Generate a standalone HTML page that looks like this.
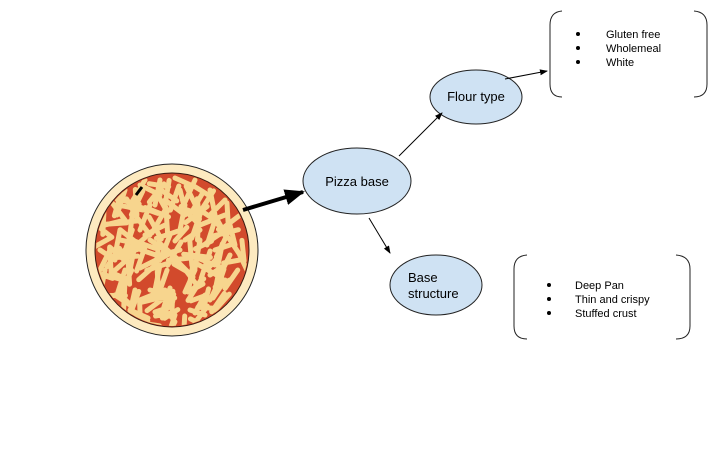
<!DOCTYPE html>
<html><head><meta charset="utf-8"><style>
html,body{margin:0;padding:0;background:#fff;}
svg{display:block;font-family:"Liberation Sans",Arial,sans-serif;}
</style></head><body>
<svg width="720" height="450" viewBox="0 0 720 450" xmlns="http://www.w3.org/2000/svg">
<defs>
<marker id="ah" markerWidth="8" markerHeight="8" refX="7" refY="4" orient="auto" markerUnits="userSpaceOnUse"><path d="M0,1 L8,4 L0,7 z" fill="#000"/></marker>
<marker id="ahb" markerWidth="20" markerHeight="16" refX="18" refY="8" orient="auto" markerUnits="userSpaceOnUse"><path d="M0,0 L20,8 L0,16 z" fill="#000"/></marker>
<clipPath id="pc"><circle cx="172" cy="250" r="76"/></clipPath>
</defs>
<circle cx="172" cy="250" r="86" fill="#fdeac0" stroke="#222" stroke-width="1"/>
<circle cx="172" cy="250" r="77" fill="#d24a2c" stroke="#3a1a10" stroke-width="1"/>
<g clip-path="url(#pc)" stroke="#f7d58e" stroke-width="5" stroke-linecap="round" fill="none">
<path id="ch" d="M110,200 l15,20 M125,190 l-8,25 M140,185 l20,10 M160,180 l-5,25 M175,178 l18,8 M195,180 l-10,22 M210,190 l5,25 M225,200 l-15,15 M105,225 l20,-5 M120,230 l-5,25 M135,215 l15,20 M150,205 l-10,25 M165,200 l20,15 M185,205 l-5,25 M200,210 l15,10 M215,220 l-8,25 M230,225 l5,20 M100,250 l15,10 M115,255 l20,-10 M135,245 l-5,25 M150,240 l18,12 M170,235 l-10,25 M185,240 l15,-10 M200,240 l-5,28 M215,250 l15,-5 M230,255 l-10,20 M105,275 l18,5 M125,270 l-8,25 M140,268 l20,-10 M160,265 l-5,25 M178,262 l15,15 M195,270 l-10,22 M210,275 l15,-10 M225,280 l-12,18 M115,295 l15,10 M135,290 l-5,22 M150,290 l20,5 M170,288 l-8,25 M188,292 l15,-8 M205,295 l-10,18 M130,310 l18,8 M155,312 l15,-5 M175,315 l-5,15 M190,310 l15,5 M145,180 l-12,20 M180,190 l5,20 M120,240 l25,5 M160,255 l20,-5 M190,255 l25,10 M140,300 l25,-10 M200,225 l25,-10 M118,205 l25,5 M165,225 l-20,10 M210,300 l10,-20 M100,270 l10,-20 M230,240 l10,15"/>
<use href="#ch" transform="translate(9,7) rotate(8 172 250)"/>
<use href="#ch" transform="translate(-7,4) rotate(-15 172 250)"/>
</g>
<path d="M136,195 l6,-8" stroke="#000" stroke-width="3"/>
<line x1="243" y1="210" x2="303" y2="192" stroke="#000" stroke-width="4" marker-end="url(#ahb)"/>
<ellipse cx="357" cy="181" rx="54" ry="33" fill="#cfe2f3" stroke="#222"/>
<text x="357" y="186" font-size="13" text-anchor="middle">Pizza base</text>
<ellipse cx="476" cy="97" rx="46" ry="27" fill="#cfe2f3" stroke="#222"/>
<text x="476" y="101" font-size="13" text-anchor="middle">Flour type</text>
<ellipse cx="436" cy="285" rx="46" ry="30" fill="#cfe2f3" stroke="#222"/>
<text x="408" y="282" font-size="13">Base</text>
<text x="408" y="298" font-size="13">structure</text>
<line x1="399" y1="156" x2="442" y2="113" stroke="#000" stroke-width="1" marker-end="url(#ah)"/>
<line x1="369" y1="218" x2="390" y2="253" stroke="#000" stroke-width="1" marker-end="url(#ah)"/>
<line x1="505" y1="79" x2="547" y2="71" stroke="#000" stroke-width="1" marker-end="url(#ah)"/>
<path d="M562,11 Q550,12 550,25 L550,84 Q550,97 562,97" fill="none" stroke="#222"/>
<path d="M694,11 Q707,12 707,25 L707,84 Q707,97 694,97" fill="none" stroke="#222"/>
<path d="M527,255 Q514,256 514,269 L514,326 Q514,339 527,339" fill="none" stroke="#222"/>
<path d="M676,255 Q690,256 690,269 L690,326 Q690,339 676,339" fill="none" stroke="#222"/>
<g font-size="11">
<circle cx="578" cy="34" r="2" fill="#000"/><text x="606" y="38">Gluten free</text>
<circle cx="578" cy="48" r="2" fill="#000"/><text x="606" y="52">Wholemeal</text>
<circle cx="578" cy="62" r="2" fill="#000"/><text x="606" y="66">White</text>
<circle cx="549" cy="285" r="2" fill="#000"/><text x="575" y="289">Deep Pan</text>
<circle cx="549" cy="299" r="2" fill="#000"/><text x="575" y="303">Thin and crispy</text>
<circle cx="549" cy="313" r="2" fill="#000"/><text x="575" y="317">Stuffed crust</text>
</g>
</svg>
</body></html>
